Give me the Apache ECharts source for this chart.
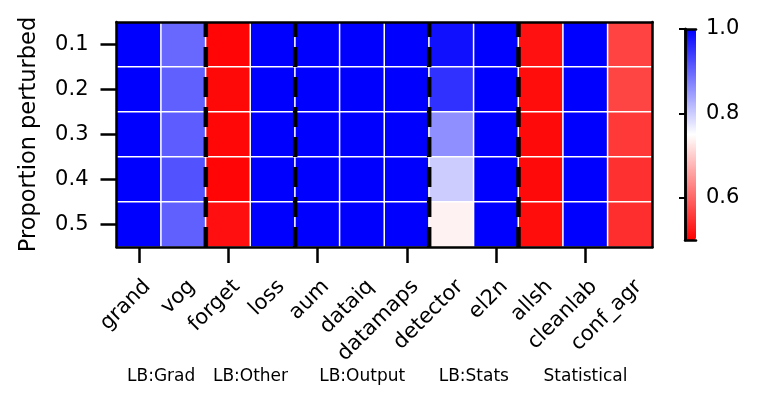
<!DOCTYPE html>
<html>
<head>
<meta charset="utf-8">
<script src="https://cdn.jsdelivr.net/npm/echarts@6/dist/echarts.min.js"></script>
<style>
  html, body { margin: 0; padding: 0; background: #fff; }
  #chart { width: 762px; height: 406px; }
</style>
</head>
<body>
<div id="chart"></div>
<script>
// ---- data ----
const categories = ['grand', 'vog', 'forget', 'loss', 'aum', 'dataiq', 'datamaps', 'detector', 'el2n', 'allsh', 'cleanlab', 'conf_agr'];
const proportions = ['0.1', '0.2', '0.3', '0.4', '0.5'];
const groupNames = ['LB:Grad', 'LB:Other', 'LB:Output', 'LB:Stats', 'Statistical'];
const groupSizes = [2, 2, 3, 2, 3];

const grand    = [1.0, 1.0, 1.0, 1.0, 1.0];
const vog      = [0.898, 0.906, 0.910, 0.920, 0.906];
const forget   = [0.505, 0.508, 0.507, 0.505, 0.515];
const loss     = [1.0, 1.0, 1.0, 1.0, 1.0];
const aum      = [1.0, 1.0, 1.0, 1.0, 1.0];
const dataiq   = [1.0, 1.0, 1.0, 1.0, 1.0];
const datamaps = [1.0, 1.0, 1.0, 1.0, 1.0];
const detector = [0.984, 0.953, 0.860, 0.800, 0.737];
const el2n     = [1.0, 1.0, 1.0, 1.0, 1.0];
const allsh    = [0.517, 0.512, 0.510, 0.510, 0.512];
const cleanlab = [1.0, 1.0, 1.0, 1.0, 1.0];
const conf_agr = [0.565, 0.567, 0.555, 0.547, 0.545];

const colorMin = 0.5;
const colorMax = 1.0;
const colorbarTicks = [0.6, 0.8, 1.0];

// ---- build ----
const valuesByMethod = [grand, vog, forget, loss, aum, dataiq, datamaps, detector, el2n, allsh, cleanlab, conf_agr];
const heatData = [];
valuesByMethod.forEach((vals, i) => vals.forEach((v, j) => heatData.push([i, j, v])));

const boundaries = [];
const groupSpans = [];
let acc = 0;
groupSizes.forEach((s, k) => {
  groupSpans.push([acc, acc + s - 1, groupNames[k]]);
  acc += s;
  if (k < groupSizes.length - 1) boundaries.push(acc);
});

const FONT = 'DejaVu Sans';
const black = '#000';

const chart = echarts.init(document.getElementById('chart'), null, { renderer: 'canvas' });

function cellBounds(api) {
  const w = api.size([1, 1]);
  const topC = api.coord([0, 0]);
  const botC = api.coord([0, proportions.length - 1]);
  return { w: w[0], h: w[1], top: topC[1] - w[1] / 2, bottom: botC[1] + w[1] / 2 };
}

chart.setOption({
  animation: false,
  backgroundColor: '#fff',
  grid: [
    { left: 116.5, top: 22, width: 536, height: 225 },
    { left: 685, top: 29, width: 11, height: 211 }
  ],
  xAxis: [
    {
      type: 'category', gridIndex: 0, data: categories, position: 'bottom', z: 10,
      axisLine: { show: true, lineStyle: { color: black, width: 2.5 } },
      axisTick: { show: true, alignWithLabel: true, length: 16, lineStyle: { color: black, width: 2.5 } },
      axisLabel: { show: false },
      splitLine: { show: false }
    },
    {
      type: 'category', gridIndex: 0, data: categories, position: 'top', z: 10,
      axisLine: { show: true, lineStyle: { color: black, width: 2.5 } },
      axisTick: { show: false }, axisLabel: { show: false }, splitLine: { show: false }
    },
    {
      type: 'value', gridIndex: 1, position: 'bottom', min: 0, max: 1, z: 10,
      axisLine: { show: true, lineStyle: { color: black, width: 2.5 } },
      axisTick: { show: false }, axisLabel: { show: false }, splitLine: { show: false }
    },
    {
      type: 'value', gridIndex: 1, position: 'top', min: 0, max: 1, z: 10,
      axisLine: { show: true, lineStyle: { color: black, width: 2.5 } },
      axisTick: { show: false }, axisLabel: { show: false }, splitLine: { show: false }
    }
  ],
  yAxis: [
    {
      type: 'category', gridIndex: 0, data: proportions, inverse: true, position: 'left', z: 10,
      axisLine: { show: true, lineStyle: { color: black, width: 2.5 } },
      axisTick: { show: true, alignWithLabel: true, length: 16, lineStyle: { color: black, width: 2.5 } },
      axisLabel: { fontSize: 21, color: black, fontFamily: FONT, margin: 28 },
      splitLine: { show: false },
      name: 'Proportion perturbed', nameLocation: 'middle', nameGap: 76,
      nameTextStyle: { fontSize: 22.5, color: black, fontFamily: FONT }
    },
    {
      type: 'category', gridIndex: 0, data: proportions, inverse: true, position: 'right', z: 10,
      axisLine: { show: true, lineStyle: { color: black, width: 2.5 } },
      axisTick: { show: false }, axisLabel: { show: false }, splitLine: { show: false }
    },
    {
      type: 'value', gridIndex: 1, position: 'left', min: colorMin, max: colorMax, z: 10,
      axisLine: { show: true, lineStyle: { color: black, width: 2.5 } },
      axisTick: { show: true, customValues: colorbarTicks, length: 6, lineStyle: { color: black, width: 2 } },
      axisLabel: { show: false }, splitLine: { show: false }
    },
    {
      type: 'value', gridIndex: 1, position: 'right', min: colorMin, max: colorMax, z: 10,
      axisLine: { show: true, lineStyle: { color: black, width: 2.5 } },
      axisTick: { show: false },
      axisLabel: { show: true, customValues: colorbarTicks, margin: 10, fontSize: 21, color: black, fontFamily: FONT,
                   formatter: v => v.toFixed(1) },
      splitLine: { show: false }
    }
  ],
  visualMap: {
    type: 'continuous', min: colorMin, max: colorMax, seriesIndex: 0, dimension: 2,
    inRange: { color: ['#ff0000', '#ffffff', '#0000ff'] },
    left: 685, top: 29, itemWidth: 11, itemHeight: 211, padding: 0,
    calculable: false, text: null, showLabel: false, hoverLink: false,
    orient: 'vertical'
  },
  series: [
    {
      type: 'heatmap', xAxisIndex: 0, yAxisIndex: 0, data: heatData,
      itemStyle: { borderColor: '#ffffff', borderWidth: 1.5 },
      emphasis: { disabled: true }, progressive: 0
    },
    {
      // dashed group separators, drawn from the bottom upward
      type: 'custom', xAxisIndex: 0, yAxisIndex: 0, z: 5, clip: false,
      data: boundaries.map(b => [b, 0]),
      renderItem: function (params, api) {
        const b = boundaries[params.dataIndex];
        const cb = cellBounds(api);
        const x0 = api.coord([b - 1, 0])[0];
        const x1 = api.coord([b, 0])[0];
        const x = (x0 + x1) / 2;
        return {
          type: 'line',
          shape: { x1: x, y1: cb.bottom, x2: x, y2: cb.top },
          style: { stroke: black, lineWidth: 4.5, lineDash: [20, 10], lineDashOffset: 0 }
        };
      }
    },
    {
      // rotated category tick labels
      type: 'custom', xAxisIndex: 0, yAxisIndex: 0, z: 5, clip: false,
      data: categories.map((c, i) => [i, 0]),
      renderItem: function (params, api) {
        const i = params.dataIndex;
        const cb = cellBounds(api);
        const x = api.coord([i, 0])[0];
        return {
          type: 'text',
          x: x + 1, y: cb.bottom + 29,
          rotation: Math.PI / 4,
          style: { text: categories[i], x: 0, y: 0, textAlign: 'right', textVerticalAlign: 'top',
                   fontSize: 21, fontFamily: FONT, fill: black }
        };
      }
    },
    {
      // group names under the tick labels
      type: 'custom', xAxisIndex: 0, yAxisIndex: 0, z: 5, clip: false,
      data: groupSpans.map(g => [g[0], 0]),
      renderItem: function (params, api) {
        const g = groupSpans[params.dataIndex];
        const cb = cellBounds(api);
        const xa = api.coord([g[0], 0])[0];
        const xb = api.coord([g[1], 0])[0];
        return {
          type: 'text',
          style: { text: g[2], x: (xa + xb) / 2, y: cb.bottom + 130, textAlign: 'center', textVerticalAlign: 'middle',
                   fontSize: 17, fontFamily: FONT, fill: black }
        };
      }
    }
  ]
});
</script>
</body>
</html>
